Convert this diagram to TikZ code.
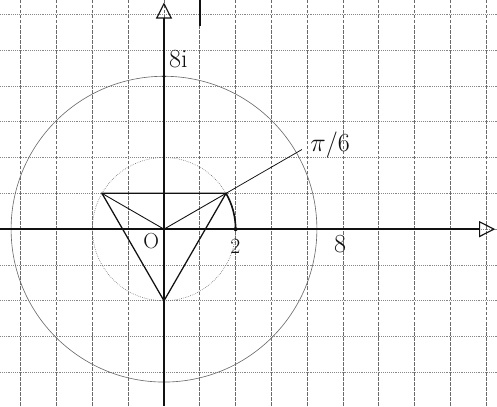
\documentclass[tikz,border=0pt]{standalone}
\usepackage{tikz}
\usepackage{xcolor}
\usetikzlibrary{positioning, arrows.meta, calc}
\definecolor{ink}{HTML}{111111}
\definecolor{pencil}{HTML}{6a6a6a}

\begin{document}
\begin{tikzpicture}[x=1cm, y=1cm,
  gridv/.style={pencil, line width=0.7pt, dash pattern=on 3pt off 1pt},
  gridh/.style={pencil!80, line width=0.5pt, densely dotted},
  axis/.style={ink, line width=1.2pt, -{Triangle[open, length=4.5mm, width=4.5mm, line width=0.9pt]}},
  circ/.style={pencil, line width=0.5pt},
  edge/.style={ink, line width=1pt},
  lbl/.style={font=\huge, ink, inner sep=1pt}
]
  \useasboundingbox (-4.58,-4.94) rectangle (9.30,6.40);

  % squared paper
  \foreach \x in {-4,...,9} \draw[gridv] (\x,-4.94) -- (\x,6.40);
  \foreach \y in {-4,...,6} \draw[gridh] (-4.58,\y) -- (9.30,\y);

  % points
  \coordinate (O) at (0,0);
  \coordinate (A) at (30:2);
  \coordinate (B) at (150:2);
  \coordinate (C) at (270:2);
  \coordinate (E) at (0:2);
  \coordinate (P) at (30:4.45);
  \coordinate (T) at (0,4.27);
  \coordinate (ybot) at (0,-4.94);
  \coordinate (ytop) at (0,6.33);
  \coordinate (xl) at (-4.58,0);
  \coordinate (xr) at (9.25,0);

  % circles
  \draw[circ] (O) circle (4.27);
  \draw[circ, densely dotted] (O) circle (2);

  % axes
  \draw[axis] (ybot) -- (ytop);
  \draw[axis] (xl) -- (xr);
  \draw[ink, line width=1.4pt] (1,6.40) -- (1,5.68);

  % triangle and rays
  \draw[edge] (A) -- (B) -- (C) -- cycle;
  \draw[edge, line width=0.7pt] (O) -- (A);
  \draw[edge, line width=0.7pt] (O) -- (B);
  \draw[ink, line width=0.6pt] (A) -- (P);
  \draw[ink, line width=1.3pt] (A) arc[start angle=30, end angle=0, radius=2];
  \fill[ink] (E) circle (1.6pt);
  \fill[ink] (T) circle (1.4pt);

  % labels
  \node[lbl] (l8i) at (0.40,4.75) {8i};
  \node[lbl] (lpi) at (4.64,2.35) {$\pi$/6};
  \node[lbl, font=\LARGE] (lO) at (-0.36,-0.34) {O};
  \node[lbl, font=\LARGE] (l2) at (1.99,-0.47) {2};
  \node[lbl] (l8) at (4.92,-0.42) {8};
\end{tikzpicture}
\end{document}
